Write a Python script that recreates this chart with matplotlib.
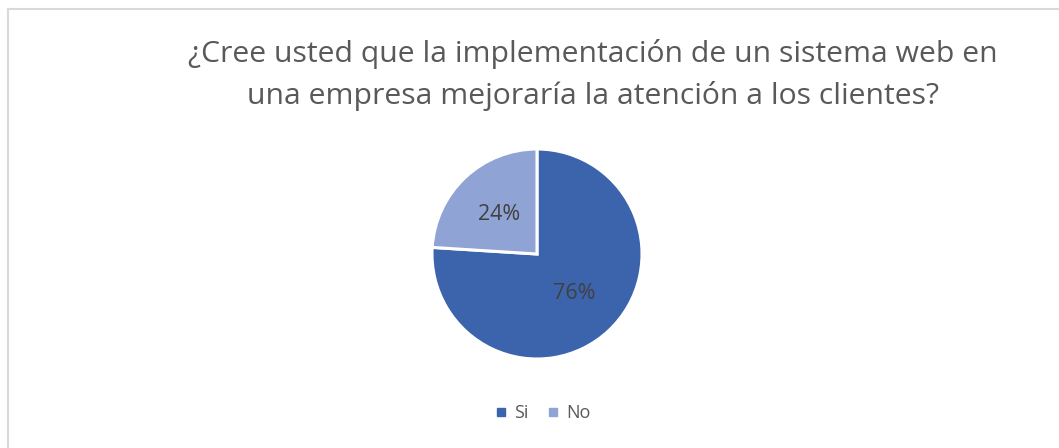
import matplotlib
matplotlib.use("Agg")
import matplotlib.pyplot as plt
from matplotlib.lines import Line2D

# data
labels = ["Si", "No"]
shares = [76, 24]
colours = ["#3C64AD", "#8FA4D4"]
title = "¿Cree usted que la implementación de un sistema web en\nuna empresa mejoraría la atención a los clientes?"

W, H = 1059, 448
fig = plt.figure(figsize=(W / 100, H / 100), dpi=100)

# chart border (top and left edge visible)
fig.add_artist(Line2D([8 / W, 8 / W], [0, 1 - 9 / H], color="#D9D9D9", lw=1.5))
fig.add_artist(Line2D([8 / W, 1], [1 - 9 / H, 1 - 9 / H], color="#D9D9D9", lw=1.5))

fig.text(593 / W, 1 - 75 / H, title, ha="center", va="center", fontsize=21.7,
         color="#595959", family="Open Sans", linespacing=1.5)

cx, cy, r = 537, 254, 105
ax = fig.add_axes([(cx - r) / W, (H - cy - r) / H, 2 * r / W, 2 * r / H])
wedges, texts, autotexts = ax.pie(shares, colors=colours, startangle=90, counterclock=False,
                                  autopct="%d%%", pctdistance=0.52,
                                  wedgeprops=dict(edgecolor="white", linewidth=2.2),
                                  textprops=dict(fontsize=15.5, color="#404040", family="Open Sans"))
ax.set_xlim(-1, 1)
ax.set_ylim(-1, 1)
ax.set_aspect("equal")

handles = [Line2D([], [], marker="s", linestyle="", markersize=6, color=c) for c in colours]
fig.legend(handles, labels, loc="center", bbox_to_anchor=(542 / W, 1 - 413 / H), ncol=2,
           frameon=False, handletextpad=0.3, columnspacing=1.0, handlelength=0.8,
           prop=dict(family="Open Sans", size=13), labelcolor="#595959")

fig.savefig("out.png", dpi=100)
